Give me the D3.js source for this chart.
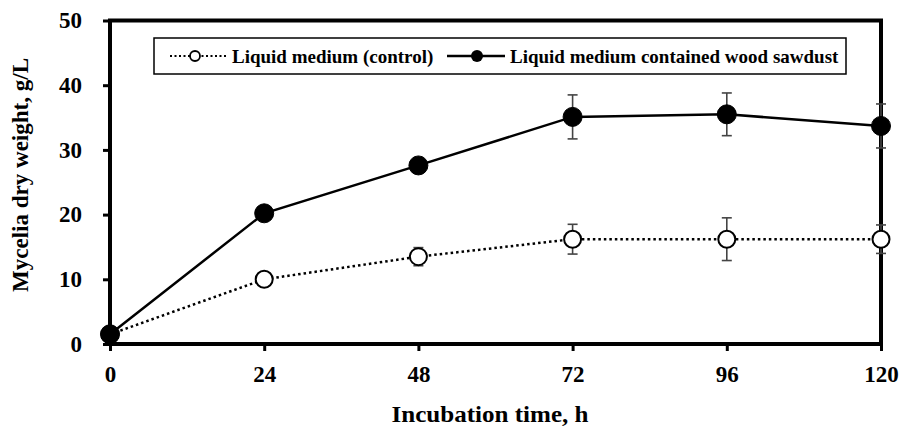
<!DOCTYPE html>
<html>
<head>
<meta charset="utf-8">
<script src="https://cdn.jsdelivr.net/npm/d3@7"></script>
<style>
  body { margin: 0; background: #fff; }
  text { font-family: "Liberation Serif", "Times New Roman", serif; font-weight: bold; }
</style>
</head>
<body>
<script>
var hours = [0, 24, 48, 72, 96, 120];
var controlValues = [1.5, 10.0, 13.5, 16.2, 16.2, 16.2];
var controlErrors = [0.3, 0.5, 1.4, 2.3, 3.3, 2.2];
var sawdustValues = [1.5, 20.2, 27.6, 35.1, 35.5, 33.7];
var sawdustErrors = [0.3, 1.0, 1.2, 3.4, 3.3, 3.4];
var yTicks = [0, 10, 20, 30, 40, 50];
var xTicks = [0, 24, 48, 72, 96, 120];
var seriesNames = ["Liquid medium (control)", "Liquid medium contained wood sawdust"];

var W = 901, H = 428;
var margin = {top: 20.5, right: 20, bottom: 84, left: 110};
var width = 881 - margin.left,
    height = 344 - margin.top;

var svg = d3.select("body").append("svg")
    .attr("width", W)
    .attr("height", H)
  .append("g")
    .attr("transform", "translate(" + margin.left + "," + margin.top + ")");

var x = d3.scaleLinear().domain([0, 120]).range([0, width]);
var y = d3.scaleLinear().domain([0, 50]).range([height, 0]);

// axes
var xAxis = svg.append("g")
    .attr("transform", "translate(0," + height + ")")
    .call(d3.axisBottom(x).tickValues(xTicks).tickSize(7).tickPadding(15));
var yAxis = svg.append("g")
    .call(d3.axisLeft(y).tickValues(yTicks).tickSize(7).tickPadding(21));
[xAxis, yAxis].forEach(function (a) {
  a.select(".domain").remove();
  a.selectAll(".tick line").attr("stroke", "#000").attr("stroke-width", 3);
  a.selectAll(".tick text").attr("fill", "#000").style("font-size", "23px");
});

// frame
svg.append("rect")
    .attr("x", 0).attr("y", 0)
    .attr("width", width).attr("height", height)
    .attr("fill", "none").attr("stroke", "#000").attr("stroke-width", 4);

function drawSeries(values, errors, dashed, filled) {
  var pts = hours.map(function (h, i) { return {h: h, v: values[i], e: errors[i]}; });
  var line = d3.line().x(function (d) { return x(d.h); }).y(function (d) { return y(d.v); });
  svg.append("path")
      .datum(pts)
      .attr("d", line)
      .attr("fill", "none")
      .attr("stroke", "#000")
      .attr("stroke-width", 2.5)
      .attr("stroke-dasharray", dashed ? "2.5,3" : null);

  var eb = svg.append("g").selectAll("g").data(pts).enter().append("g")
      .attr("stroke", "#444").attr("stroke-width", 1.6);
  eb.append("line")
      .attr("x1", function (d) { return x(d.h); }).attr("x2", function (d) { return x(d.h); })
      .attr("y1", function (d) { return y(d.v + d.e); }).attr("y2", function (d) { return y(d.v - d.e); });
  eb.append("line")
      .attr("x1", function (d) { return x(d.h) - 5; }).attr("x2", function (d) { return x(d.h) + 5; })
      .attr("y1", function (d) { return y(d.v + d.e); }).attr("y2", function (d) { return y(d.v + d.e); });
  eb.append("line")
      .attr("x1", function (d) { return x(d.h) - 5; }).attr("x2", function (d) { return x(d.h) + 5; })
      .attr("y1", function (d) { return y(d.v - d.e); }).attr("y2", function (d) { return y(d.v - d.e); });

  svg.append("g").selectAll("circle").data(pts).enter().append("circle")
      .attr("cx", function (d) { return x(d.h); })
      .attr("cy", function (d) { return y(d.v); })
      .attr("r", filled ? 9.5 : 8.5)
      .attr("fill", filled ? "#000" : "#fff")
      .attr("stroke", "#000")
      .attr("stroke-width", filled ? 1 : 2);
}

drawSeries(controlValues, controlErrors, true, false);
drawSeries(sawdustValues, sawdustErrors, false, true);

// legend
var lg = svg.append("g").attr("transform", "translate(" + (154 - margin.left) + "," + (38 - margin.top) + ")");
lg.append("rect")
    .attr("width", 692).attr("height", 36)
    .attr("fill", "#fff").attr("stroke", "#000").attr("stroke-width", 1.5);
lg.append("line").attr("x1", 16).attr("x2", 72).attr("y1", 18).attr("y2", 18)
    .attr("stroke", "#000").attr("stroke-width", 2).attr("stroke-dasharray", "2,2.5");
lg.append("circle").attr("cx", 41).attr("cy", 18).attr("r", 5)
    .attr("fill", "#fff").attr("stroke", "#000").attr("stroke-width", 1.8);
lg.append("text").attr("x", 78).attr("y", 24.5).style("font-size", "19px").text(seriesNames[0]);
lg.append("line").attr("x1", 293).attr("x2", 351).attr("y1", 18).attr("y2", 18)
    .attr("stroke", "#000").attr("stroke-width", 2.5);
lg.append("circle").attr("cx", 323).attr("cy", 18).attr("r", 6)
    .attr("fill", "#000");
lg.append("text").attr("x", 356).attr("y", 24.5).style("font-size", "19px").text(seriesNames[1]);

// axis titles
svg.append("text")
    .attr("x", 490 - margin.left)
    .attr("y", 422 - margin.top)
    .attr("text-anchor", "middle")
    .attr("textLength", 197)
    .attr("lengthAdjust", "spacingAndGlyphs")
    .style("font-size", "24px")
    .text("Incubation time, h");
svg.append("text")
    .attr("transform", "translate(" + (28 - margin.left) + "," + (175 - margin.top) + ") rotate(-90)")
    .attr("text-anchor", "middle")
    .attr("textLength", 234)
    .attr("lengthAdjust", "spacingAndGlyphs")
    .style("font-size", "23px")
    .text("Mycelia dry weight, g/L");
</script>
</body>
</html>
